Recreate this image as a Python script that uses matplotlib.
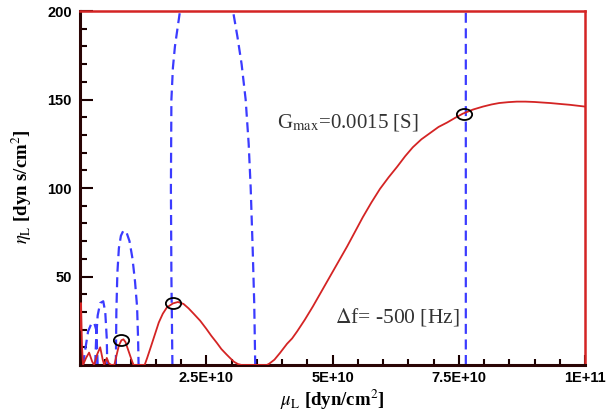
import numpy as np
import matplotlib
matplotlib.use("Agg")
import matplotlib.pyplot as plt
from matplotlib.path import Path
from matplotlib.transforms import Affine2D

# red solid curve (mu_L in 1E+10 dyn/cm2, eta_L)
red_mu = [0.0, 0.02, 0.04, 0.06, 0.12, 0.18, 0.24, 0.28, 0.34, 0.40, 0.45, 0.48,
          0.53, 0.57, 0.62, 0.68, 0.72, 0.77, 0.82, 0.86, 0.90, 0.96, 1.02, 1.06,
          1.28, 1.33, 1.40, 1.48, 1.56, 1.64, 1.72, 1.84, 1.94, 2.05, 2.15, 2.25,
          2.38, 2.50, 2.60, 2.71, 2.80, 2.90, 2.97, 3.05, 3.13, 3.20, 3.70, 3.75,
          3.85, 3.96, 4.10, 4.20, 4.30, 4.45, 4.61, 4.78, 4.95, 5.12, 5.29, 5.45,
          5.60, 5.77, 5.94, 6.11, 6.28, 6.44, 6.59, 6.76, 6.93, 7.10, 7.27, 7.42,
          7.58, 7.78, 7.98, 8.15, 8.30, 8.48, 8.65, 8.82, 9.00, 9.15, 9.31, 9.50,
          9.70, 9.85, 10.0]
red_eta = [20, 35, 10, 0, 4, 7, 2, 0, 6, 10, 3, 0,
           4, 1, 0, 0, 5, 11, 14, 14.5, 13, 8, 3, 0,
           0, 4, 10, 17, 24, 29, 32.5, 34.8, 35.6, 34.5, 32, 29,
           25, 20.5, 16.5, 12.5, 9, 6, 4, 1.8, 0.5, 0, 0, 0.8,
           3, 6.8, 12, 15, 19, 25.5, 33, 41.5, 50, 58.5, 67, 75.5,
           83.5, 91.8, 99.5, 106, 112, 118, 123, 127.5, 131, 134.5, 137, 139.5,
           142, 144.3, 146, 147.2, 148, 148.5, 148.8, 148.8, 148.6, 148.3, 148, 147.5,
           147, 146.5, 146]

# blue dashed curve, arches separated by nan
blue_mu = [0.06, 0.10, 0.16, 0.22, 0.28, 0.32, 0.34, 0.35, np.nan,
           0.30, 0.32, 0.35, 0.40, 0.46, 0.50, 0.53, 0.54, np.nan,
           0.71, 0.72, 0.74, 0.77, 0.81, 0.86, 0.92, 0.98, 1.04, 1.09, 1.13, 1.15, 1.16, np.nan,
           1.83, 1.81, 1.80, 1.81, 1.84, 1.88, 1.98, 2.20, 2.50, 2.80, 3.03, 3.12,
           3.20, 3.28, 3.34, 3.38, 3.42, 3.45, 3.47, np.nan,
           7.64, 7.64]
blue_eta = [0, 8, 19, 23, 24, 20, 8, 0, np.nan,
            0, 15, 28, 35, 36, 30, 15, 0, np.nan,
            0, 30, 52, 66, 73, 76, 75, 70, 60, 47, 33, 15, 0, np.nan,
            0, 50, 100, 150, 168, 180, 200, 235, 250, 235, 200, 185,
            170, 150, 125, 100, 65, 35, 0, np.nan,
            0, 210]

# circled points
circ_mu = [0.82, 1.84, 7.60]
circ_eta = [14, 34.8, 142]

xticks = [2.5, 5.0, 7.5, 10.0]
xlabels = ["2.5E+10", "5E+10", "7.5E+10", "1E+11"]
yticks = [50, 100, 150, 200]

scale = 1e10
plt.rcParams["mathtext.fontset"] = "stix"

fig = plt.figure(figsize=(6.15, 4.15), dpi=100)
ax = fig.add_axes([80/615, 1-365/415, 505/615, 354/415])

ax.plot(np.array(blue_mu)*scale, blue_eta, color="#3b3bff", lw=1.6,
        dashes=(4.5, 2.5), zorder=2)
ax.plot(np.array(red_mu)*scale, red_eta, color="#d42424", lw=1.3, zorder=3)

ell = Path.unit_circle().transformed(Affine2D().scale(1.0, 0.72))
ax.plot(np.array(circ_mu)*scale, circ_eta, linestyle="none", marker=ell,
        markersize=11, mfc="none", mec="black", mew=1.3, zorder=4)

ax.set_xlim(0, 1e11)
ax.set_ylim(0, 200)

ax.set_xticks(np.array(xticks)*scale)
ax.set_xticklabels(xlabels)
ax.set_xticks(np.arange(5, 100, 5)*1e9, minor=True)
ax.set_yticks(yticks)
ax.set_yticks(np.arange(10, 200, 10), minor=True)

for lab in ax.get_xticklabels() + ax.get_yticklabels():
    lab.set_fontfamily("Liberation Sans")
    lab.set_fontweight("bold")
    lab.set_fontsize(10.5)

ax.tick_params(axis="both", which="both", direction="in", width=1.5, color="#1a0000")
ax.tick_params(axis="y", which="major", length=9, pad=6)
ax.tick_params(axis="y", which="minor", length=5)
ax.tick_params(axis="x", which="major", length=7, pad=4)
ax.tick_params(axis="x", which="minor", length=4)

for side in ["left", "bottom"]:
    ax.spines[side].set_color("#2a0505")
    ax.spines[side].set_linewidth(2.2)
for side in ["top", "right"]:
    ax.spines[side].set_color("#d42424")
    ax.spines[side].set_linewidth(1.8)

fig.text(22/615, 1-187/415, r"$\eta_{\rm L}$ [dyn s/cm$^{2}$]", rotation=90,
         family="Liberation Serif", fontweight="bold", fontsize=13.5,
         ha="center", va="center")
fig.text(332/615, 1-412/415, r"$\mu_{\rm L}$ [dyn/cm$^{2}$]",
         family="Liberation Serif", fontweight="bold", fontsize=13.5,
         ha="center", va="bottom")

ax.text(3.9e10, 137, r"G$_{\rm max}$=0.0015 [S]", family="Liberation Serif",
        fontsize=15, color="#333333", ha="left", va="center")
ax.text(5.05e10, 27, r"$\Delta$f= -500 [Hz]", family="Liberation Serif",
        fontsize=15.5, color="#333333", ha="left", va="center")

fig.savefig("out.png", dpi=100)
